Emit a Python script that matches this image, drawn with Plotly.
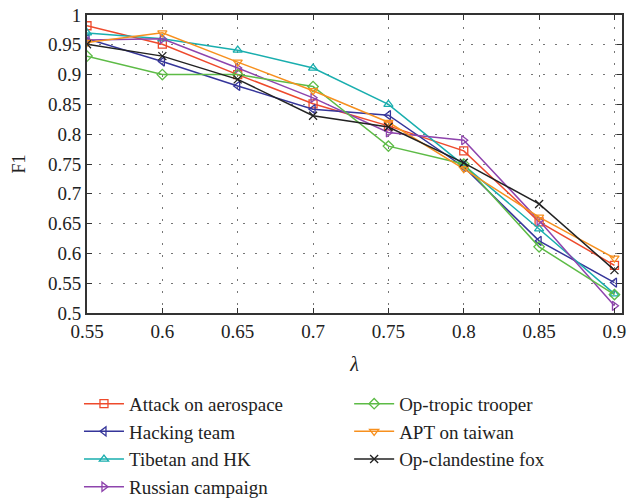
import plotly.graph_objects as go

lam = [0.55, 0.6, 0.65, 0.7, 0.75, 0.8, 0.85, 0.9]

attack_on_aerospace = [0.982, 0.951, 0.90, 0.851, 0.814, 0.772, 0.653, 0.58]
hacking_team = [0.96, 0.922, 0.881, 0.842, 0.832, 0.745, 0.621, 0.551]
tibetan_and_hk = [0.97, 0.96, 0.941, 0.911, 0.85, 0.748, 0.641, 0.532]
russian_campaign = [0.958, 0.96, 0.911, 0.861, 0.803, 0.79, 0.655, 0.512]
op_tropic_trooper = [0.931, 0.90, 0.90, 0.88, 0.78, 0.75, 0.611, 0.531]
apt_on_taiwan = [0.954, 0.97, 0.921, 0.873, 0.82, 0.742, 0.661, 0.592]
op_clandestine_fox = [0.951, 0.931, 0.892, 0.831, 0.812, 0.752, 0.683, 0.572]

series = [
    ("Attack on aerospace", attack_on_aerospace, "#EE4A2C", "square-open", "legend"),
    ("Hacking team", hacking_team, "#35359A", "triangle-left-open", "legend"),
    ("Tibetan and HK", tibetan_and_hk, "#19AEAE", "triangle-up-open", "legend"),
    ("Russian campaign", russian_campaign, "#8E44AD", "triangle-right-open", "legend"),
    ("Op-tropic trooper", op_tropic_trooper, "#5DBB46", "diamond-open", "legend2"),
    ("APT on taiwan", apt_on_taiwan, "#F7901E", "triangle-down-open", "legend2"),
    ("Op-clandestine fox", op_clandestine_fox, "#222222", "x-thin-open", "legend2"),
]

fig = go.Figure()
for name, vals, color, sym, leg in series:
    fig.add_trace(go.Scatter(
        x=lam, y=vals, name=name, mode="lines+markers",
        line=dict(color=color, width=1.5),
        marker=dict(symbol=sym, size=8, color=color, line=dict(color=color, width=1.3)),
        legend=leg,
    ))

font = "Liberation Serif"
axis_common = dict(
    showline=True, linecolor="#333333", linewidth=2, mirror="ticks",
    ticks="inside", ticklen=5, tickcolor="#333333",
    showgrid=True, gridcolor="#777777", griddash="2px,10px", gridwidth=1.2,
    zeroline=False, automargin=False,
    tickfont=dict(family=font, size=19, color="#222222"),
)

fig.update_layout(
    width=627, height=501,
    margin=dict(l=87, r=5, t=15, b=188, autoexpand=False),
    paper_bgcolor="white", plot_bgcolor="white",
    font=dict(family=font, color="#222222"),
    xaxis=dict(range=[0.55, 0.905], dtick=0.05, tick0=0.55,
               title=dict(text="<i>λ</i>", font=dict(family=font, size=20), standoff=16),
               **axis_common),
    yaxis=dict(range=[0.5, 1.0], dtick=0.05, tick0=0.5,
               title=dict(text="F1", font=dict(family=font, size=18), standoff=18),
               tickformat=".2~f",
               **axis_common),
    legend=dict(x=-0.015, y=-0.241, xanchor="left", yanchor="top",
                font=dict(family=font, size=19), tracegroupgap=0,
                itemwidth=40, bgcolor="rgba(0,0,0,0)"),
    legend2=dict(x=0.49, y=-0.241, xanchor="left", yanchor="top",
                 font=dict(family=font, size=19), tracegroupgap=0,
                 itemwidth=40, bgcolor="rgba(0,0,0,0)"),
)

fig.write_html(
    "out.html",
    config={"displayModeBar": False},
    post_script="document.documentElement.style.margin='0';document.body.style.margin='0';document.body.style.overflow='hidden';",
)
